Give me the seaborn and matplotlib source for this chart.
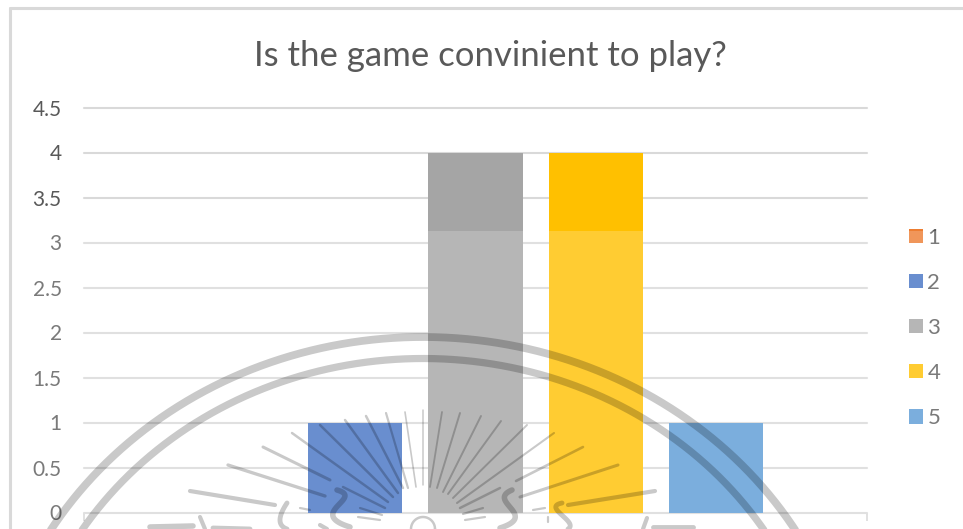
import numpy as np
import pandas as pd
import matplotlib
matplotlib.use("Agg")
import matplotlib.pyplot as plt
from matplotlib.patches import Rectangle
import seaborn as sns

title = "Is the game convinient to play?"
ratings = ["1", "2", "3", "4", "5"]
counts = [0, 1, 4, 4, 1]
tick_values = [0, 0.5, 1, 1.5, 2, 2.5, 3, 3.5, 4, 4.5]
tick_labels = ["0", "0.5", "1", "1.5", "2", "2.5", "3", "3.5", "4", "4.5"]
colors = ["#ED7D31", "#4472C4", "#A5A5A5", "#FFC000", "#5B9BD5"]

W, H = 963, 529
sns.set_theme(style="white")
plt.rcParams["font.family"] = ["Lato", "DejaVu Sans"]
TXT = "#595959"
GRID = "#D9D9D9"

fig = plt.figure(figsize=(W / 100, H / 100), dpi=100, facecolor="white")
ax = fig.add_axes([84 / W, 1 - 512.5 / H, 783 / W, 405 / H])

df = pd.DataFrame({"Rating": ratings, "Count": counts})
sns.barplot(data=df, x="Rating", y="Count", hue="Rating", order=ratings,
            hue_order=ratings, palette=colors, dodge=False, width=0.785,
            saturation=1, legend=True, ax=ax, zorder=3, linewidth=0)

ax.set_xlim(-1.255, 5.255)
ax.set_ylim(0, 4.5)
ax.set_yticks(tick_values, tick_labels)
ax.set_xticks([-1.255, 5.255], ["", ""])
ax.tick_params(axis="y", length=0, pad=16, labelsize=15, labelcolor=TXT)
ax.tick_params(axis="x", length=5.5, width=1.4, color=GRID, bottom=True, direction="out")
ax.set_xlabel("")
ax.set_ylabel("")
for s in ax.spines.values():
    s.set_visible(False)
ax.yaxis.grid(True, color=GRID, lw=1.5)
ax.set_axisbelow(True)
for gl in ax.get_ygridlines():
    gl.set_clip_on(False)

handles, labels = ax.get_legend_handles_labels()
ax.get_legend().remove()
fig.legend(handles, labels, loc="center left", bbox_to_anchor=(909 / W, 1 - 328 / H),
           frameon=False, fontsize=16, labelcolor=TXT, handlelength=0.61,
           handleheight=0.61, handletextpad=0.22, labelspacing=1.13, borderpad=0,
           borderaxespad=0)

fig.text(490 / W, 1 - 56 / H, title, ha="center", va="center", fontsize=25, color=TXT)

# Overlay in pixel coordinates: chart frame, white wash and scanned watermark
ov = fig.add_axes([0, 0, 1, 1], zorder=10)
ov.set_xlim(0, W)
ov.set_ylim(H, 0)
ov.axis("off")
ov.patch.set_alpha(0)
ov.plot([10, 10], [8, H], color=GRID, lw=2.2)
ov.plot([10, W], [8, 8], color=GRID, lw=2.2)
ov.add_patch(Rectangle((0, 231), W, H - 231, color="white", alpha=0.2, lw=0))

INK = dict(color="black", alpha=0.21, solid_capstyle="round", solid_joinstyle="round")
for top, a_r, b_r, lw in [(337, 435, 400, 5.6), (358.5, 404, 370, 5.2)]:
    t = np.linspace(-1.2, 1.2, 300)
    ov.plot(423 + a_r * np.sin(t), top + b_r * (1 - np.cos(t)), lw=lw, **INK)

rays = [
    ((190, 491), (275, 505), 3.0), ((228, 465), (325, 496), 2.4),
    ((263, 447), (330, 480), 2.2), ((292, 433), (388, 502), 1.8),
    ((320, 425), (393, 497), 1.8), ((345, 420), (398, 493), 1.8),
    ((366, 416), (403, 488), 1.8), ((386, 413), (408, 488), 1.6),
    ((405, 412), (416, 487), 1.2), ((423, 410), (423, 485), 1.1),
    ((442, 412), (430, 487), 1.3), ((460, 413), (437, 488), 1.4),
    ((481, 416), (443, 492), 1.4), ((501, 421), (448, 494), 1.4),
    ((527, 425), (453, 498), 1.4), ((554, 433), (457, 503), 1.5),
    ((583, 447), (516, 481), 1.9), ((618, 465), (520, 497), 2.2),
    ((655, 491), (568, 505), 3.0), ((343, 487), (385, 508), 1.8),
    ((500, 488), (460, 508), 1.8), ((360, 508), (382, 515), 1.6),
    ((358, 517), (380, 520), 1.6), ((463, 514), (483, 508), 1.6),
    ((465, 520), (485, 517), 1.6), ((300, 508), (310, 510), 1.6),
    ((533, 510), (545, 508), 1.6), ((548, 517), (548, 522), 1.6),
]
for a, b, lw in rays:
    ov.plot([a[0], b[0]], [a[1], b[1]], lw=lw, **INK)


def smooth(xs, ys):
    """Round a short hand-traced stroke into a curve."""
    u = np.linspace(0, 1, len(xs))
    d = len(xs) - 1
    v = np.linspace(0, 1, 60)
    return np.polyval(np.polyfit(u, xs, d), v), np.polyval(np.polyfit(u, ys, d), v)


strokes = [
    ([337, 343, 333, 350], [490, 500, 513, 527], 4.0),
    ([512, 506, 515, 500], [490, 502, 515, 528], 4.0),
    ([287, 280, 287], [503, 520, 529], 3.5),
    ([562, 557, 567, 568], [503, 510, 520, 529], 3.5),
    ([150, 193], [527, 526], 4.0), ([200, 205], [517, 529], 3.0),
    ([213, 250], [528, 529], 3.5), ([320, 327], [525, 529], 3.0),
    ([647, 643], [518, 529], 3.0), ([653, 693], [527, 527], 3.5),
]
for xs, ys, lw in strokes:
    ov.plot(*smooth(xs, ys), lw=lw, **INK)
th = np.linspace(0, 2 * np.pi, 80)
ov.plot(423 + 12 * np.cos(th), 529 + 12 * np.sin(th), lw=1.8, **INK)
ov.set_xlim(0, W)
ov.set_ylim(H, 0)

fig.savefig("out.png", dpi=100, facecolor="white")
